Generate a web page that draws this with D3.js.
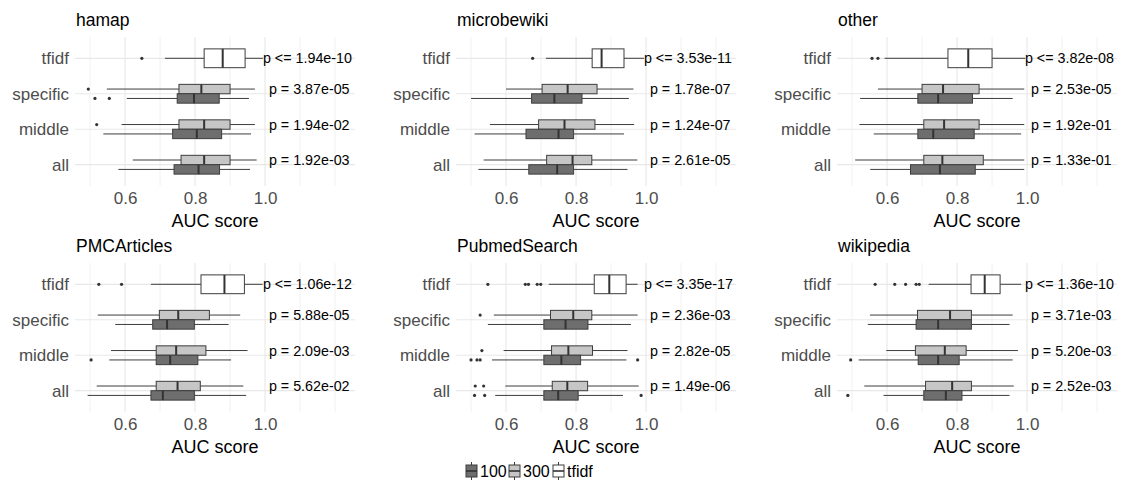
<!DOCTYPE html>
<html>
<head>
<meta charset="utf-8">
<script src="https://cdn.jsdelivr.net/npm/d3@7"></script>
<style>
  body { margin: 0; background: #fff; }
  text { font-family: "Liberation Sans", Arial, sans-serif; }
</style>
</head>
<body>
<div id="chart"></div>
<script>
// facets, categories and groups
const panelNames = ["hamap", "microbewiki", "other", "PMCArticles", "PubmedSearch", "wikipedia"];
const rowNames = ["tfidf", "specific", "middle", "all"];
const groupNames = ["100", "300", "tfidf"];
const xTicks = [0.6, 0.8, 1.0];
const xMinor = [0.5, 0.7, 0.9, 1.1, 1.2];

// [row, group, lower whisker, q1, median, q3, upper whisker, outliers]
const hamap = [
  ["tfidf", "tfidf", 0.714, 0.826, 0.879, 0.943, 0.994, [0.648]],
  ["specific", "300", 0.548, 0.754, 0.818, 0.900, 0.971, [0.495]],
  ["specific", "100", 0.605, 0.749, 0.797, 0.869, 0.954, [0.514, 0.555]],
  ["middle", "300", 0.590, 0.754, 0.826, 0.900, 0.971, [0.519]],
  ["middle", "100", 0.538, 0.736, 0.805, 0.876, 0.960, []],
  ["all", "300", 0.622, 0.760, 0.826, 0.900, 0.976, []],
  ["all", "100", 0.581, 0.740, 0.810, 0.870, 0.957, []]
];
const microbewiki = [
  ["tfidf", "tfidf", 0.714, 0.846, 0.873, 0.937, 0.994, [0.676]],
  ["specific", "300", 0.600, 0.703, 0.776, 0.860, 0.964, []],
  ["specific", "100", 0.500, 0.673, 0.738, 0.817, 0.951, []],
  ["middle", "300", 0.554, 0.693, 0.767, 0.854, 0.966, []],
  ["middle", "100", 0.510, 0.657, 0.750, 0.793, 0.937, []],
  ["all", "300", 0.536, 0.716, 0.790, 0.845, 0.975, []],
  ["all", "100", 0.521, 0.665, 0.746, 0.793, 0.947, []]
];
const other = [
  ["tfidf", "tfidf", 0.593, 0.774, 0.832, 0.900, 0.995, [0.557, 0.574]],
  ["specific", "300", 0.574, 0.700, 0.760, 0.863, 0.992, []],
  ["specific", "100", 0.523, 0.688, 0.746, 0.844, 0.959, []],
  ["middle", "300", 0.521, 0.705, 0.763, 0.863, 0.992, []],
  ["middle", "100", 0.562, 0.688, 0.732, 0.849, 0.983, []],
  ["all", "300", 0.509, 0.705, 0.758, 0.875, 0.992, []],
  ["all", "100", 0.552, 0.667, 0.751, 0.852, 0.992, []]
];
const pmcArticles = [
  ["tfidf", "tfidf", 0.674, 0.817, 0.884, 0.941, 0.993, [0.525, 0.590]],
  ["specific", "300", 0.522, 0.698, 0.752, 0.841, 0.929, []],
  ["specific", "100", 0.572, 0.679, 0.720, 0.798, 0.896, []],
  ["middle", "300", 0.560, 0.689, 0.746, 0.831, 0.950, []],
  ["middle", "100", 0.555, 0.689, 0.729, 0.808, 0.903, [0.503]],
  ["all", "300", 0.519, 0.689, 0.750, 0.815, 0.938, []],
  ["all", "100", 0.493, 0.674, 0.708, 0.798, 0.946, []]
];
const pubmedSearch = [
  ["tfidf", "tfidf", 0.722, 0.852, 0.895, 0.943, 0.976, [0.548, 0.655, 0.664, 0.689, 0.699]],
  ["specific", "300", 0.565, 0.727, 0.792, 0.845, 0.976, [0.526]],
  ["specific", "100", 0.548, 0.708, 0.770, 0.834, 0.957, []],
  ["middle", "300", 0.593, 0.730, 0.778, 0.847, 0.947, [0.531]],
  ["middle", "100", 0.560, 0.708, 0.758, 0.813, 0.944, [0.500, 0.517, 0.526, 0.976]],
  ["all", "300", 0.598, 0.732, 0.775, 0.833, 0.979, [0.512, 0.536]],
  ["all", "100", 0.569, 0.708, 0.749, 0.806, 0.934, [0.510, 0.539, 0.986]]
];
const wikipedia = [
  ["tfidf", "tfidf", 0.719, 0.840, 0.879, 0.923, 0.983, [0.566, 0.622, 0.653, 0.683, 0.692]],
  ["specific", "300", 0.551, 0.687, 0.780, 0.841, 0.959, []],
  ["specific", "100", 0.545, 0.683, 0.746, 0.841, 0.950, []],
  ["middle", "300", 0.598, 0.681, 0.765, 0.826, 0.974, []],
  ["middle", "100", 0.519, 0.689, 0.746, 0.806, 0.959, [0.496]],
  ["all", "300", 0.535, 0.710, 0.786, 0.841, 0.962, []],
  ["all", "100", 0.590, 0.705, 0.768, 0.814, 0.950, [0.488]]
];

// p value labels, in rowNames order
const hamapP = ["p <= 1.94e-10", "p = 3.87e-05", "p = 1.94e-02", "p = 1.92e-03"];
const microbewikiP = ["p <= 3.53e-11", "p = 1.78e-07", "p = 1.24e-07", "p = 2.61e-05"];
const otherP = ["p <= 3.82e-08", "p = 2.53e-05", "p = 1.92e-01", "p = 1.33e-01"];
const pmcArticlesP = ["p <= 1.06e-12", "p = 5.88e-05", "p = 2.09e-03", "p = 5.62e-02"];
const pubmedSearchP = ["p <= 3.35e-17", "p = 2.36e-03", "p = 2.82e-05", "p = 1.49e-06"];
const wikipediaP = ["p <= 1.36e-10", "p = 3.71e-03", "p = 5.20e-03", "p = 2.52e-03"];

const panelBoxes = [hamap, microbewiki, other, pmcArticles, pubmedSearch, wikipedia];
const panelP = [hamapP, microbewikiP, otherP, pmcArticlesP, pubmedSearchP, wikipediaP];

const width = 1123, height = 482;
const colLeft = [75, 456, 837];
const rowTop = [37, 263];
const plotW = 280, plotH = 149;

const fill = d3.scaleOrdinal().domain(groupNames).range(["#6e6e6e", "#c6c6c6", "#ffffff"]);
const stroke = "#3d3d3d";

const svg = d3.select("#chart").append("svg")
  .attr("width", width)
  .attr("height", height);

panelNames.forEach((name, i) => {
  const left = colLeft[i % 3];
  const top = rowTop[Math.floor(i / 3)];
  const x = d3.scaleLinear().domain([0.457, 1.257]).range([left, left + plotW]);
  const y = d3.scalePoint().domain(rowNames).range([top, top + plotH]).padding(0.6);
  const boxW = y.step() * 0.53;

  const g = svg.append("g");

  // grid
  g.selectAll(".minor").data(xMinor).enter().append("line")
    .attr("x1", d => x(d)).attr("x2", d => x(d))
    .attr("y1", top).attr("y2", top + plotH)
    .attr("stroke", "#ebebeb").attr("stroke-width", 0.7);
  g.selectAll(".major").data(xTicks).enter().append("line")
    .attr("x1", d => x(d)).attr("x2", d => x(d))
    .attr("y1", top).attr("y2", top + plotH)
    .attr("stroke", "#e8e8e8").attr("stroke-width", 1.1);
  g.selectAll(".hgrid").data(rowNames).enter().append("line")
    .attr("x1", left).attr("x2", left + plotW)
    .attr("y1", d => y(d)).attr("y2", d => y(d))
    .attr("stroke", "#e8e8e8").attr("stroke-width", 1.2);

  // axes
  const xAxis = g.append("g")
    .attr("transform", `translate(0,${top + plotH})`)
    .call(d3.axisBottom(x).tickValues(xTicks).tickFormat(d3.format(".1f")).tickSize(0).tickPadding(6));
  xAxis.select(".domain").remove();
  xAxis.selectAll("text").attr("fill", "#4d4d4d").style("font-size", "17px")
    .style("font-family", "'Liberation Sans', Arial, sans-serif");

  const yAxis = g.append("g")
    .attr("transform", `translate(${left},0)`)
    .call(d3.axisLeft(y).tickSize(0).tickPadding(6));
  yAxis.select(".domain").remove();
  yAxis.selectAll("text").attr("fill", "#4d4d4d").style("font-size", "17px")
    .style("font-family", "'Liberation Sans', Arial, sans-serif");

  g.append("text")
    .attr("x", left + plotW / 2).attr("y", top + plotH + 41)
    .attr("text-anchor", "middle").attr("font-size", 18).attr("fill", "#000")
    .text("AUC score");

  g.append("text")
    .attr("x", left + 1).attr("y", top - 11)
    .attr("font-size", 17.5).attr("fill", "#000")
    .text(name);

  // boxes
  panelBoxes[i].forEach(b => {
    const [row, grp, lo, q1, med, q3, hi, outs] = b;
    let cy, h;
    if (grp === "tfidf") { cy = y(row); h = boxW; }
    else if (grp === "300") { cy = y(row) - boxW / 4; h = boxW / 2; }
    else { cy = y(row) + boxW / 4; h = boxW / 2; }
    const bg = g.append("g");
    bg.append("line").attr("x1", x(lo)).attr("x2", x(q1)).attr("y1", cy).attr("y2", cy)
      .attr("stroke", stroke).attr("stroke-width", 1);
    bg.append("line").attr("x1", x(q3)).attr("x2", x(hi)).attr("y1", cy).attr("y2", cy)
      .attr("stroke", stroke).attr("stroke-width", 1);
    bg.append("rect").attr("x", x(q1)).attr("y", cy - h / 2)
      .attr("width", x(q3) - x(q1)).attr("height", h)
      .attr("fill", fill(grp)).attr("stroke", stroke).attr("stroke-width", 1);
    bg.append("line").attr("x1", x(med)).attr("x2", x(med)).attr("y1", cy - h / 2).attr("y2", cy + h / 2)
      .attr("stroke", "#333").attr("stroke-width", 2);
    bg.selectAll("circle").data(outs).enter().append("circle")
      .attr("cx", d => x(d)).attr("cy", cy).attr("r", 1.6).attr("fill", "#333");
  });

  // p value labels
  g.selectAll(".pval").data(panelP[i]).enter().append("text")
    .attr("x", (d, j) => j === 0 ? x(0.994) : x(1.011))
    .attr("y", (d, j) => j === 0 ? y(rowNames[j]) : y(rowNames[j]) - boxW / 4)
    .attr("dy", "0.35em")
    .attr("font-size", 14.3).attr("fill", "#000")
    .text(d => d);
});

// legend
const legendX = [466, 509, 553];
const legend = svg.append("g");
groupNames.forEach((grp, k) => {
  const lx = legendX[k], cy = 471;
  const kg = legend.append("g");
  kg.append("line").attr("x1", lx + 5.5).attr("x2", lx + 5.5).attr("y1", cy - 9).attr("y2", cy + 9)
    .attr("stroke", stroke).attr("stroke-width", 1);
  kg.append("rect").attr("x", lx).attr("y", cy - 6).attr("width", 11).attr("height", 12)
    .attr("fill", fill(grp)).attr("stroke", stroke).attr("stroke-width", 1);
  kg.append("line").attr("x1", lx).attr("x2", lx + 11).attr("y1", cy).attr("y2", cy)
    .attr("stroke", "#333").attr("stroke-width", 1.6);
  kg.append("text").attr("x", lx + 14).attr("y", cy).attr("dy", "0.36em")
    .attr("font-size", 16).attr("fill", "#000").text(grp);
});
</script>
</body>
</html>
